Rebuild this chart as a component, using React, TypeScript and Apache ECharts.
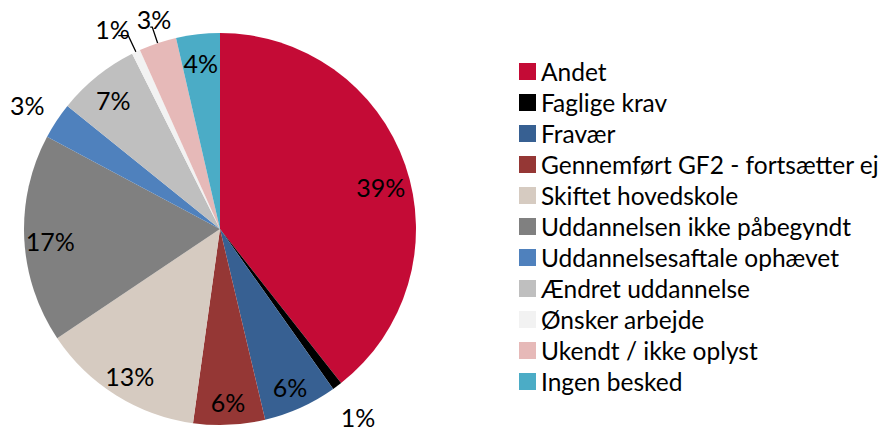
import React, { useEffect, useRef } from "react";
import * as echarts from "echarts";

const categories = [
  "Andet",
  "Faglige krav",
  "Fravær",
  "Gennemført GF2 - fortsætter ej",
  "Skiftet hovedskole",
  "Uddannelsen ikke påbegyndt",
  "Uddannelsesaftale ophævet",
  "Ændret uddannelse",
  "Ønsker arbejde",
  "Ukendt / ikke oplyst",
  "Ingen besked",
];
const shares = [39.4, 0.8, 6.1, 5.9, 13.4, 17.2, 3.0, 6.8, 0.7, 3.1, 3.6];
const colors = [
  "#C40B36",
  "#000000",
  "#376092",
  "#953735",
  "#D6CBC1",
  "#808080",
  "#4F81BD",
  "#BFBFBF",
  "#F2F2F2",
  "#E6B9B8",
  "#4BACC6",
];
const leaderLineIdx = [8, 9];

const FONT = "Lato, 'Open Sans', sans-serif";
const CENTER = [220, 229];
const R = 196;

const pctLabel = (p: any) => Math.round(p.percent) + "%";

export default function App() {
  const ref = useRef<HTMLDivElement>(null);
  useEffect(() => {
    if (!ref.current) return;
    const chart = echarts.init(ref.current, null, { renderer: "svg" });

    const mainData = categories.map((name, i) => {
      const hasLine = leaderLineIdx.includes(i);
      return {
        name,
        value: shares[i],
        itemStyle: { color: colors[i] },
        label: hasLine
          ? { show: true, position: "outside", formatter: "", fontSize: 1, lineHeight: 1 }
          : { show: false },
        labelLine: hasLine
          ? {
              show: true,
              length: i === 8 ? 18 : 17,
              length2: i === 8 ? 10 : 2,
              lineStyle: { color: "#000", width: 1.3 },
            }
          : { show: false },
      };
    });

    // transparent rings that only carry the percentage labels
    const labelRing = (idx: number[], radius: number[], startAngle = 90) => ({
      type: "pie",
      center: CENTER,
      radius,
      startAngle,
      silent: true,
      avoidLabelOverlap: false,
      itemStyle: { color: "rgba(0,0,0,0)", borderWidth: 0 },
      emphasis: { disabled: true },
      labelLine: { show: false },
      labelLayout: { dy: 3, hideOverlap: false },
      data: categories.map((name, i) => ({
        name,
        value: shares[i],
        label: {
          show: idx.includes(i),
          position: "inside",
          formatter: pctLabel,
          color: "#000",
          fontFamily: FONT,
          fontSize: 25,
        },
      })),
    });

    chart.setOption({
      animation: false,
      backgroundColor: "#fff",
      legend: {
        orient: "vertical",
        left: 519,
        top: 59,
        padding: 0,
        itemWidth: 17,
        itemHeight: 17,
        itemGap: 6,
        icon: "rect",
        data: categories,
        textStyle: { fontFamily: FONT, fontSize: 24.5, color: "#000" },
      },
      series: [
        {
          type: "pie",
          center: CENTER,
          radius: R,
          startAngle: 90,
          avoidLabelOverlap: false,
          labelLayout: { hideOverlap: false },
          itemStyle: { borderWidth: 0 },
          emphasis: { disabled: true },
          data: mainData,
        },
        labelRing([2, 3, 4, 5, 7, 10], [138, 196]),
        labelRing([0], [132, 196], 86.5),
        labelRing([1, 6], [200, 256]),
        labelRing([8], [202, 252], 92.5),
        labelRing([9], [194, 246], 88.7),
      ],
    });
    return () => chart.dispose();
  }, []);
  return (
    <div
      ref={ref}
      style={{ position: "fixed", left: 0, top: 0, width: 884, height: 432 }}
    />
  );
}
